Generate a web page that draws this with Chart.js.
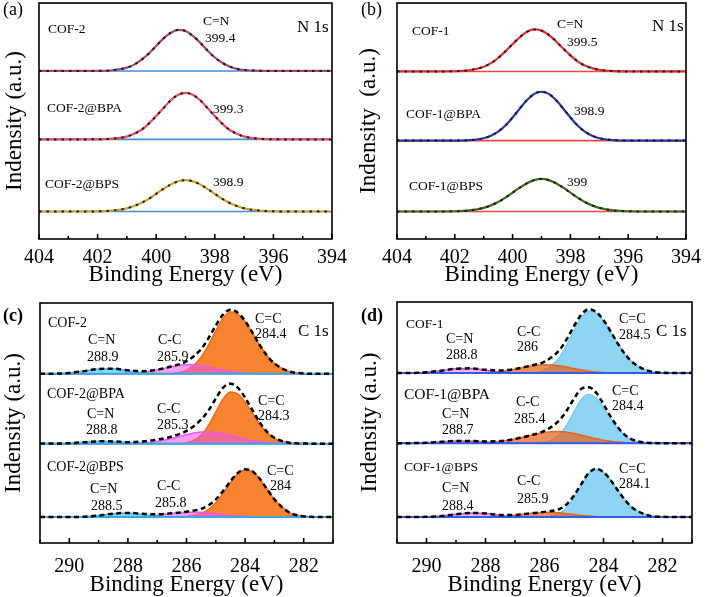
<!DOCTYPE html>
<html>
<head>
<meta charset="utf-8">
<script src="https://cdn.jsdelivr.net/npm/chart.js@4.4.0/dist/chart.umd.min.js"></script>
<style>
  body { margin: 0; background: #fff; width: 708px; height: 597px; position: relative; overflow: hidden; }
  canvas { position: absolute; }
</style>
</head>
<body>
<canvas id="pa" width="354" height="298" style="left:0;top:0"></canvas>
<canvas id="pb" width="354" height="298" style="left:354px;top:0"></canvas>
<canvas id="pc" width="354" height="300" style="left:0;top:297px"></canvas>
<canvas id="pd" width="354" height="300" style="left:354px;top:297px"></canvas>
<script>
const FONT = '"Liberation Serif", "Times New Roman", serif';
Chart.defaults.font.family = FONT;

// N 1s : binding energy grid (eV) and fitted peak heights above background (a.u.)
const nGrid = [404, 403, 402, 401.5, 401, 400.75, 400.5, 400.25, 400, 399.75, 399.5, 399.25, 399, 398.75, 398.5, 398.25, 398, 397.75, 397.5, 397.25, 397, 396.5, 396, 395, 394];
const nTicks = [404, 402, 400, 398, 396, 394];
const fitCOF2    = [0, 0, 0.04, 0.3, 1.4, 2.7, 4.8, 7.4, 10.6, 13.8, 16.2, 17.4, 16.9, 14.9, 12.0, 8.7, 5.7, 3.5, 1.9, 0.9, 0.4, 0.1, 0, 0, 0];
const fitCOF2BPA = [0, 0, 0.04, 0.3, 1.2, 2.4, 4.1, 6.7, 9.9, 13.3, 16.6, 18.9, 19.7, 18.9, 16.6, 13.3, 9.9, 6.7, 4.1, 2.4, 1.2, 0.3, 0.04, 0, 0];
const fitCOF2BPS = [0, 0, 0.08, 0.4, 1.35, 2.3, 3.7, 5.4, 7.5, 9.6, 11.5, 12.8, 13.3, 12.8, 11.5, 9.6, 7.5, 5.4, 3.7, 2.3, 1.35, 0.4, 0.08, 0, 0];
const fitCOF1    = [0, 0, 0.09, 0.5, 2.0, 3.5, 5.7, 8.5, 11.6, 14.5, 16.8, 17.8, 17.3, 15.5, 12.8, 9.7, 6.8, 4.3, 2.5, 1.4, 0.7, 0.13, 0.02, 0, 0];
const fitCOF1BPA = [0, 0, 0.02, 0.2, 1.0, 2.1, 3.8, 6.4, 9.8, 13.6, 17.2, 19.8, 20.7, 19.8, 17.2, 13.6, 9.8, 6.4, 3.8, 2.1, 1.0, 0.2, 0.02, 0, 0];
const fitCOF1BPS = [0, 0, 0.1, 0.45, 1.55, 2.6, 4.0, 5.9, 8.0, 10.1, 12.0, 13.3, 13.8, 13.3, 12.0, 10.1, 8.0, 5.9, 4.0, 2.6, 1.55, 0.45, 0.1, 0, 0];

// C 1s : grid and components (C=C, C-C, C=N) plus envelope
const cGrid = [291, 290.5, 290, 289.5, 289, 288.5, 288, 287.5, 287, 286.5, 286, 285.5, 285.25, 285, 284.75, 284.5, 284.25, 284, 283.75, 283.5, 283.25, 283, 282.5, 282, 281.5, 281];
const cTicks = [290, 288, 286, 284, 282];

const cof2CC  = [0, 0, 0, 0, 0, 0, 0, 0, 0, 0.17, 1.45, 6.9, 12.0, 17.9, 23.2, 25.7, 24.9, 21.7, 17.0, 11.9, 7.5, 4.3, 1.0, 0.15, 0, 0];
const cof2CmC = [0, 0, 0, 0, 0, 0.03, 0.18, 0.65, 1.64, 2.96, 3.77, 3.4, 2.83, 2.17, 1.52, 0.98, 0.57, 0.31, 0.16, 0.07, 0.03, 0, 0, 0, 0, 0];
const cof2CN  = [0.01, 0.07, 0.35, 1.1, 2.0, 2.1, 1.3, 0.46, 0.1, 0.01, 0, 0, 0, 0, 0, 0, 0, 0, 0, 0, 0, 0, 0, 0, 0, 0];
const cof2Env = [0.01, 0.07, 0.35, 1.1, 2.0, 2.13, 1.48, 1.11, 1.74, 3.14, 5.22, 10.3, 14.83, 20.07, 24.72, 26.68, 25.47, 22.01, 17.16, 11.97, 7.53, 4.3, 1.0, 0.15, 0, 0];

const cof2bpaCC  = [0, 0, 0, 0, 0, 0, 0, 0, 0, 0.02, 0.42, 3.5, 7.6, 13.2, 18.6, 21.5, 20.7, 17.3, 12.7, 8.1, 4.5, 2.2, 0.35, 0.03, 0, 0];
const cof2bpaCmC = [0, 0, 0, 0, 0, 0.01, 0.08, 0.31, 0.94, 2.15, 3.7, 4.8, 4.9, 4.65, 4.1, 3.4, 2.6, 1.86, 1.23, 0.77, 0.44, 0.24, 0.06, 0.01, 0, 0];
const cof2bpaCN  = [0.01, 0.04, 0.21, 0.59, 0.96, 0.91, 0.5, 0.16, 0.03, 0, 0, 0, 0, 0, 0, 0, 0, 0, 0, 0, 0, 0, 0, 0, 0, 0];
const cof2bpaEnv = [0.01, 0.04, 0.21, 0.59, 0.96, 0.92, 0.6, 0.9, 1.7, 3.0, 5.3, 10.0, 13.8, 18.8, 23.3, 25.0, 23.3, 19.16, 13.93, 8.87, 4.94, 2.44, 0.41, 0.04, 0, 0];

const cof2bpsCC  = [0, 0, 0, 0, 0, 0, 0, 0, 0, 0.02, 0.2, 1.47, 3.2, 6.0, 9.9, 14.3, 18.0, 19.7, 19.0, 15.9, 11.6, 7.4, 2.0, 0.32, 0.03, 0];
const cof2bpsCmC = [0, 0, 0, 0, 0, 0.01, 0.07, 0.28, 0.77, 1.5, 2.04, 1.97, 1.7, 1.35, 0.98, 0.65, 0.4, 0.22, 0.11, 0.05, 0.02, 0, 0, 0, 0, 0];
const cof2bpsCN  = [0, 0, 0.02, 0.15, 0.63, 1.4, 1.68, 1.09, 0.38, 0.07, 0.01, 0, 0, 0, 0, 0, 0, 0, 0, 0, 0, 0, 0, 0, 0, 0];
const cof2bpsEnv = [0, 0, 0.02, 0.15, 0.63, 1.41, 1.75, 1.37, 1.15, 1.59, 2.25, 3.44, 4.9, 7.35, 10.88, 14.95, 18.4, 19.92, 19.11, 15.95, 11.62, 7.4, 2.0, 0.32, 0.03, 0];

const cof1CC  = [0, 0, 0, 0, 0, 0, 0, 0, 0, 0.13, 1.24, 6.4, 11.5, 17.6, 23.0, 25.7, 24.9, 21.7, 17.0, 11.9, 7.5, 4.3, 1.0, 0.15, 0, 0];
const cof1CmC = [0, 0, 0, 0, 0.01, 0.04, 0.19, 0.66, 1.63, 2.84, 3.49, 3.04, 2.49, 1.87, 1.29, 0.82, 0.47, 0.25, 0.12, 0.05, 0.02, 0.01, 0, 0, 0, 0];
const cof1CN  = [0.01, 0.06, 0.32, 1.0, 1.81, 1.92, 1.18, 0.42, 0.09, 0.01, 0, 0, 0, 0, 0, 0, 0, 0, 0, 0, 0, 0, 0, 0, 0, 0];
const cof1Env = [0.01, 0.06, 0.32, 1.0, 1.82, 1.96, 1.37, 1.08, 1.72, 2.98, 4.73, 9.44, 13.99, 19.47, 24.29, 26.52, 25.37, 21.95, 17.12, 11.95, 7.52, 4.31, 1.0, 0.15, 0, 0];

const cof1bpaCC  = [0, 0, 0, 0, 0, 0, 0, 0, 0, 0.02, 0.37, 3.4, 7.5, 13.0, 18.1, 20.2, 18.7, 14.8, 10.1, 5.9, 2.95, 1.26, 0.15, 0.01, 0, 0];
const cof1bpaCmC = [0, 0, 0, 0, 0.01, 0.06, 0.24, 0.74, 1.75, 3.2, 4.5, 4.87, 4.6, 4.06, 3.35, 2.6, 1.89, 1.28, 0.81, 0.49, 0.27, 0.14, 0.03, 0.01, 0, 0];
const cof1bpaCN  = [0.01, 0.04, 0.21, 0.59, 0.96, 0.91, 0.5, 0.16, 0.03, 0, 0, 0, 0, 0, 0, 0, 0, 0, 0, 0, 0, 0, 0, 0, 0, 0];
const cof1bpaEnv = [0.01, 0.04, 0.21, 0.59, 0.97, 0.97, 0.74, 0.9, 1.78, 3.22, 5.1, 9.5, 13.5, 18.5, 22.6, 23.2, 21.0, 16.2, 10.91, 6.39, 3.22, 1.4, 0.18, 0.02, 0, 0];

const cof1bpsCC  = [0, 0, 0, 0, 0, 0, 0, 0, 0, 0, 0.13, 1.52, 3.84, 7.9, 13.1, 17.9, 19.8, 18.5, 15.1, 10.8, 6.7, 3.64, 0.72, 0.08, 0, 0];
const cof1bpsCmC = [0, 0, 0, 0, 0, 0.01, 0.05, 0.22, 0.71, 1.47, 1.98, 1.74, 1.39, 1.0, 0.64, 0.37, 0.19, 0.09, 0.04, 0.01, 0, 0, 0, 0, 0, 0];
const cof1bpsCN  = [0, 0.01, 0.07, 0.38, 1.09, 1.68, 1.4, 0.63, 0.15, 0.02, 0, 0, 0, 0, 0, 0, 0, 0, 0, 0, 0, 0, 0, 0, 0, 0];
const cof1bpsEnv = [0, 0.01, 0.07, 0.38, 1.09, 1.69, 1.45, 0.85, 0.86, 1.49, 2.11, 3.26, 5.23, 8.9, 13.74, 18.27, 19.99, 18.59, 15.14, 10.81, 6.7, 3.64, 0.72, 0.08, 0, 0];

// vertical stacking offsets of the three spectra in each panel (layout)
const offA = [71.2, 42.2, 11.65];
const offB = [71.0, 41.7, 11.65];
const offC = [70.5, 41.4, 10.8];

function pts(grid, vals, off) {
  return grid.map((x, i) => ({ x: x, y: off + vals[i] }));
}

const framePlugin = {
  id: 'frame',
  afterDatasetsDraw(chart) {
    const { ctx, chartArea: a, scales: { x } } = chart;
    ctx.save();
    ctx.strokeStyle = '#000';
    ctx.lineWidth = 1.6;
    ctx.strokeRect(a.left, a.top, a.right - a.left, a.bottom - a.top);
    for (let v = Math.ceil(x.min); v <= x.max; v++) {
      const p = x.getPixelForValue(v);
      const len = v % 2 === 0 ? 5 : 3;
      ctx.beginPath();
      ctx.moveTo(p, a.bottom);
      ctx.lineTo(p, a.bottom - len);
      ctx.stroke();
    }
    ctx.restore();
  }
};

function notesPlugin(items) {
  return {
    id: 'notes',
    afterDraw(chart) {
      const ctx = chart.ctx;
      ctx.save();
      ctx.fillStyle = '#000';
      ctx.textBaseline = 'alphabetic';
      items.forEach(([t, x, y, size, bold]) => {
        ctx.font = (bold ? 'bold ' : '') + size + 'px ' + FONT;
        ctx.fillText(t, x, y);
      });
      ctx.restore();
    }
  };
}

function makeChart(id, datasets, range, ticks, box, notes, yTitle) {
  new Chart(document.getElementById(id), {
    type: 'line',
    data: { datasets: datasets.reverse() },
    options: {
      responsive: false,
      animation: false,
      events: [],
      layout: { padding: { top: box.top, right: box.right, left: 0, bottom: 0 } },
      elements: { point: { radius: 0 }, line: { cubicInterpolationMode: 'monotone' } },
      plugins: { legend: { display: false }, tooltip: { enabled: false } },
      scales: {
        x: {
          type: 'linear', reverse: true, min: range[1], max: range[0],
          afterFit: s => { s.height = box.xh; },
          afterBuildTicks: s => { s.ticks = ticks.map(v => ({ value: v })); },
          grid: { display: false, drawTicks: false },
          border: { display: false },
          ticks: { padding: box.tp, color: '#000', autoSkip: false, maxRotation: 0, font: { family: FONT, size: 20 } },
          title: { display: true, text: 'Binding Energy (eV)', color: '#000', font: { family: FONT, size: 23 }, padding: { top: 0, bottom: box.tb } }
        },
        y: {
          min: 0, max: 100,
          afterFit: s => { s.width = box.yw; },
          grid: { display: false },
          border: { display: false },
          ticks: { display: false },
          title: { display: true, text: yTitle, color: '#000', font: { family: FONT, size: 23 }, padding: { top: box.yp, bottom: 0 } }
        }
      }
    },
    plugins: [framePlugin, notesPlugin(notes)]
  });
}

function nDatasets(fits, colors, offs, baseColor) {
  const ds = [];
  fits.forEach((f, i) => {
    ds.push({ data: [{ x: 404, y: offs[i] }, { x: 394, y: offs[i] }], borderColor: baseColor, borderWidth: 1.6 });
    ds.push({ data: pts(nGrid, f, offs[i]), borderColor: colors[i], borderWidth: 2.2 });
    ds.push({ data: pts(nGrid, f, offs[i]), borderColor: '#1b1b1b', borderWidth: 2, borderDash: [2.5, 5] });
  });
  return ds;
}

function cDatasets(stacks, offs, col) {
  const ds = [];
  stacks.forEach((s, i) => {
    const o = offs[i];
    ds.push({ data: pts(cGrid, s[0], o), borderColor: col.cc[0], backgroundColor: col.cc[1], fill: { value: o }, borderWidth: 1.5 });
    ds.push({ data: pts(cGrid, s[1], o), borderColor: col.cmc[0], backgroundColor: col.cmc[1], fill: { value: o }, borderWidth: 1.5 });
    ds.push({ data: pts(cGrid, s[2], o), borderColor: col.cn[0], backgroundColor: col.cn[1], fill: { value: o }, borderWidth: 1.5 });
    ds.push({ data: [{ x: 291, y: o }, { x: 281, y: o }], borderColor: col.base, borderWidth: 2 });
    ds.push({ data: pts(cGrid, s[3], o), borderColor: '#000', borderWidth: 2.5, borderDash: [5, 3.5] });
  });
  return ds;
}

const notesA = [
  ['(a)', 3, 15, 18], ['COF-2', 48, 33, 13.5], ['C=N', 203, 25, 13.5], ['399.4', 205, 42, 13.5], ['N 1s', 297, 32, 17],
  ['COF-2@BPA', 47, 112, 13.5], ['399.3', 213, 113, 13.5], ['COF-2@BPS', 45, 188, 13.5], ['398.9', 213, 186, 13.5]
];
const notesB = [
  ['(b)', 7, 15, 18], ['COF-1', 58, 35, 13.5], ['C=N', 203, 28, 13.5], ['399.5', 213, 46, 13.5], ['N 1s', 298, 31, 17],
  ['COF-1@BPA', 52, 118, 13.5], ['398.9', 220, 115, 13.5], ['COF-1@BPS', 55, 190, 13.5], ['399', 213, 186, 13.5]
];
const notesC = [
  ['(c)', 3, 24, 18, true], ['COF-2', 48, 30, 14], ['C=N', 88, 47, 14], ['288.9', 87, 64, 14], ['C-C', 158, 47, 14], ['285.9', 157, 64, 14],
  ['C=C', 255, 26, 14], ['284.4', 255, 41, 14], ['C 1s', 298, 39, 17],
  ['COF-2@BPA', 47, 101, 14], ['C=N', 87, 121, 14], ['288.8', 86, 137, 14], ['C-C', 157, 116, 14], ['285.3', 157, 132, 14],
  ['C=C', 258, 108, 14], ['284.3', 258, 123, 14],
  ['COF-2@BPS', 47, 174, 14], ['C=N', 90, 196, 14], ['288.5', 91, 213, 14], ['C-C', 157, 193, 14], ['285.8', 155, 210, 14],
  ['C=C', 267, 178, 14], ['284', 270, 193, 14]
];
const notesD = [
  ['(d)', 7, 24, 18, true], ['COF-1', 52, 31, 13.5], ['C=N', 92, 46, 14], ['288.8', 92, 62, 14], ['C-C', 163, 39, 14], ['286', 163, 54, 14],
  ['C=C', 265, 26, 14], ['284.5', 265, 42, 14], ['C 1s', 302, 39, 17],
  ['COF-1@BPA', 50, 102, 15.5], ['C=N', 88, 121, 14], ['288.7', 88, 137, 14], ['C-C', 162, 109, 14], ['285.4', 160, 126, 14],
  ['C=C', 258, 98, 14], ['284.4', 258, 113, 14],
  ['COF-1@BPS', 50, 174, 13.5], ['C=N', 88, 195, 14], ['288.4', 88, 213, 14], ['C-C', 163, 188, 14], ['285.9', 163, 206, 14],
  ['C=C', 265, 176, 14], ['284.1', 265, 191, 14]
];

makeChart('pa', nDatasets([fitCOF2, fitCOF2BPA, fitCOF2BPS], ['#a8486c', '#f24a5e', '#c9a127'], offA, '#3d8fe0'),
  [404, 394], nTicks, { top: 3, right: 18, xh: 59, yw: 39, tp: 7, tb: 9, yp: 1 }, notesA, 'Indensity (a.u.)');
makeChart('pb', nDatasets([fitCOF1, fitCOF1BPA, fitCOF1BPS], ['#e42a30', '#2338b5', '#3e6a1c'], offB, '#f04848'),
  [404, 394], nTicks, { top: 3, right: 16, xh: 59, yw: 43, tp: 7, tb: 9, yp: 1 }, notesB, 'Indensity  (a.u.)');
makeChart('pc', cDatasets([[cof2CC, cof2CmC, cof2CN, cof2Env], [cof2bpaCC, cof2bpaCmC, cof2bpaCN, cof2bpaEnv], [cof2bpsCC, cof2bpsCmC, cof2bpsCN, cof2bpsEnv]], offC,
  { cc: ['#f26a1a', '#f5832f'], cmc: ['#ee55ee', 'rgba(236,80,236,0.55)'], cn: ['#33bde8', 'rgba(80,200,235,0.7)'], base: '#3aa6ea' }),
  [291, 281], cTicks, { top: 6, right: 21, xh: 54, yw: 40, tp: 12, tb: -2, yp: 0 }, notesC, 'Indensity (a.u.)');
makeChart('pd', cDatasets([[cof1CC, cof1CmC, cof1CN, cof1Env], [cof1bpaCC, cof1bpaCmC, cof1bpaCN, cof1bpaEnv], [cof1bpsCC, cof1bpsCmC, cof1bpsCN, cof1bpsEnv]], offC,
  { cc: ['#74ccf0', '#8ed5f3'], cmc: ['#e8641c', 'rgba(232,100,28,0.72)'], cn: ['#e040e0', 'rgba(230,100,230,0.5)'], base: '#2f5fe6' }),
  [291, 281], cTicks, { top: 5, right: 16, xh: 54, yw: 43, tp: 12, tb: -2, yp: 2 }, notesD, 'Indensity (a.u.)');
</script>
</body>
</html>
